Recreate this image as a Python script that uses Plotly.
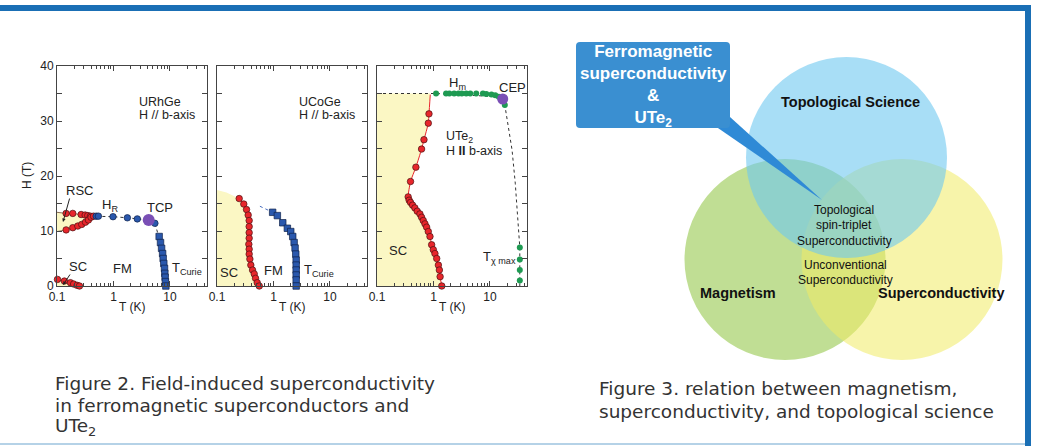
import plotly.graph_objects as go

# ---------------- data ----------------
# URhGe
urhge_rsc_up_T = [0.145, 0.19, 0.267, 0.315, 0.35, 0.39]
urhge_rsc_up_H = [13.2, 13.2, 13.0, 12.9, 12.8, 12.7]
urhge_rsc_lo_T = [0.145, 0.19, 0.233, 0.274, 0.319, 0.36, 0.40, 0.443]
urhge_rsc_lo_H = [10.2, 10.6, 10.9, 11.2, 11.6, 12.0, 12.5, 12.7]
urhge_rsc_edge_H = [13.4, 9.9]
urhge_sc_T = [0.102, 0.135, 0.173, 0.197, 0.227, 0.25]
urhge_sc_H = [1.2, 0.9, 0.6, 0.36, 0.12, 0.0]
urhge_sc_fill_T = [0.1, 0.1, 0.27]
urhge_sc_fill_H = [0.0, 1.5, 0.0]
urhge_hr_T = [0.494, 0.54, 0.98, 1.76, 2.64, 5.4]
urhge_hr_H = [12.7, 12.7, 12.6, 12.4, 12.2, 11.4]
urhge_tcp_T = [4.2]
urhge_tcp_H = [12.0]
urhge_curie_T = [6.43, 6.8, 7.1, 7.4, 7.57, 7.77, 8.0, 8.1, 8.2, 8.3, 8.45]
urhge_curie_H = [9.0, 7.9, 6.85, 5.9, 5.0, 4.1, 3.2, 2.3, 1.6, 0.8, 0.0]

# UCoGe
ucoge_sc_T = [0.247, 0.298, 0.333, 0.356, 0.371, 0.371, 0.371, 0.371, 0.366, 0.371,
              0.371, 0.382, 0.397, 0.426, 0.456, 0.481, 0.515, 0.56]
ucoge_sc_H = [15.9, 14.9, 13.9, 12.9, 11.9, 10.8, 9.7, 8.7, 7.6, 6.7,
              5.8, 4.9, 3.8, 2.9, 2.2, 1.4, 0.6, 0.0]
ucoge_cap_T = [0.1, 0.147, 0.193]
ucoge_cap_H = [17.45, 17.0, 16.4]
ucoge_curie_T = [0.966, 1.17, 1.46, 1.76, 2.02, 2.19, 2.32, 2.41, 2.48, 2.52,
                 2.52, 2.52, 2.52, 2.52, 2.52]
ucoge_curie_H = [13.4, 12.8, 11.5, 10.5, 9.9, 9.0, 7.9, 6.9, 5.8, 4.7,
                 3.8, 2.9, 2.0, 1.1, 0.0]
ucoge_guide_T = [0.575, 0.966]
ucoge_guide_H = [14.5, 13.4]

# UTe2
ute2_sc_T = [0.877, 0.832, 0.809, 0.678, 0.615, 0.488, 0.392, 0.356, 0.371, 0.392,
             0.426, 0.468, 0.515, 0.575, 0.615, 0.659, 0.706, 0.756, 0.809, 0.866,
             0.927, 0.993, 1.06, 1.14, 1.22, 1.27, 1.31, 1.40]
ute2_sc_H = [34.8, 31.3, 29.6, 26.6, 24.9, 21.6, 19.0, 16.2, 15.6, 15.2,
             14.7, 14.2, 13.6, 13.1, 12.5, 11.9, 11.3, 10.7, 9.9, 9.0,
             7.5, 6.6, 5.9, 5.0, 3.8, 2.9, 1.7, 0.0]
ute2_hm_T = [1.11, 1.67, 1.91, 2.32, 2.77, 3.17, 3.79, 4.47, 5.71, 7.5, 8.6, 10.6, 12.4, 14.3]
ute2_hm_H = [35.0, 35.0, 35.0, 35.0, 35.0, 35.0, 35.0, 35.0, 35.0, 35.0, 34.9, 34.8, 34.7, 34.4]
ute2_cep_T = [16.8]
ute2_cep_H = [34.0]
ute2_after_T = [18.3]
ute2_after_H = [32.9]
ute2_guide_T = [0.1, 1.11, 14.3, 16.8, 18.3, 21.0, 24.6, 28.0, 31.0, 33.7, 33.7]
ute2_guide_H = [35.0, 35.0, 34.4, 34.0, 32.9, 29.0, 24.7, 18.7, 12.6, 7.0, 0.0]
ute2_tchi_T = [33.7, 33.7, 33.7, 33.7]
ute2_tchi_H = [7.0, 4.8, 2.9, 1.0]

x_tick_vals = [0.1, 1, 10]
x_tick_text = ["0.1", "1", "10"]
y_tick_vals = [0, 10, 20, 30, 40]
y_tick_text = ["0", "10", "20", "30", "40"]

# ---------------- style ----------------
YEL = "#fbf7c4"
RED = "#e8262b"
REDLINE = "#e8262b"
BLUE = "#2a58ad"
PURPLE = "#7a4fb5"
GREEN = "#1e9a52"
EDGE = "#4a1212"
FONT = "Liberation Sans, Arial, sans-serif"
TXT = "#222222"

fig = go.Figure()


def add(tr, k):
    xa = "x" if k == 1 else f"x{k}"
    ya = "y" if k == 1 else f"y{k}"
    tr.update(xaxis=xa, yaxis=ya, showlegend=False, hoverinfo="skip")
    fig.add_trace(tr)


def mk(color, size=7, symbol="circle", edge=EDGE, ew=0.7):
    return dict(color=color, size=size, symbol=symbol, line=dict(color=edge, width=ew))


# ----- panel 1 : URhGe -----
rsc_fx = [0.1] + urhge_rsc_up_T + urhge_rsc_lo_T[::-1] + [0.1]
rsc_fy = [urhge_rsc_edge_H[0]] + urhge_rsc_up_H + urhge_rsc_lo_H[::-1] + [urhge_rsc_edge_H[1]]
add(go.Scatter(x=rsc_fx, y=rsc_fy, fill="toself", fillcolor=YEL, mode="lines",
               line=dict(width=0)), 1)
sc_fx = urhge_sc_fill_T[:2] + urhge_sc_T + urhge_sc_fill_T[2:]
sc_fy = urhge_sc_fill_H[:2] + urhge_sc_H + urhge_sc_fill_H[2:]
add(go.Scatter(x=sc_fx, y=sc_fy, fill="toself", fillcolor=YEL, mode="lines",
               line=dict(width=0)), 1)
add(go.Scatter(x=[0.1] + urhge_rsc_up_T, y=[urhge_rsc_edge_H[0]] + urhge_rsc_up_H,
               mode="lines", line=dict(color="#6a4a30", width=0.8)), 1)
add(go.Scatter(x=[0.1] + urhge_rsc_lo_T, y=[urhge_rsc_edge_H[1]] + urhge_rsc_lo_H,
               mode="lines", line=dict(color="#6a4a30", width=0.8)), 1)
add(go.Scatter(x=urhge_sc_T, y=urhge_sc_H, mode="lines",
               line=dict(color="#6a4a30", width=0.8)), 1)
guide1_T = urhge_rsc_up_T[-1:] + urhge_hr_T[:5] + urhge_tcp_T + urhge_hr_T[5:] + urhge_curie_T
guide1_H = urhge_rsc_up_H[-1:] + urhge_hr_H[:5] + urhge_tcp_H + urhge_hr_H[5:] + urhge_curie_H
add(go.Scatter(x=guide1_T, y=guide1_H, mode="lines",
               line=dict(color="#333333", width=1, dash="dot")), 1)
add(go.Scatter(x=urhge_rsc_up_T + urhge_rsc_lo_T + urhge_sc_T,
               y=urhge_rsc_up_H + urhge_rsc_lo_H + urhge_sc_H,
               mode="markers", marker=mk(RED, 6.5), cliponaxis=False), 1)
add(go.Scatter(x=urhge_hr_T, y=urhge_hr_H, mode="markers",
               marker=mk(BLUE, 6.5, edge="#10224a")), 1)
add(go.Scatter(x=urhge_curie_T, y=urhge_curie_H, mode="markers",
               marker=mk(BLUE, 6.5, "square", edge="#10224a"), cliponaxis=False), 1)
add(go.Scatter(x=urhge_tcp_T, y=urhge_tcp_H, mode="markers",
               marker=dict(color=PURPLE, size=12)), 1)

# ----- panel 2 : UCoGe -----
add(go.Scatter(x=[0.1] + ucoge_cap_T + ucoge_sc_T, y=[0.0] + ucoge_cap_H + ucoge_sc_H,
               fill="toself", fillcolor=YEL, mode="lines", line=dict(width=0)), 2)
add(go.Scatter(x=ucoge_sc_T, y=ucoge_sc_H, mode="lines",
               line=dict(color=REDLINE, width=1)), 2)
add(go.Scatter(x=ucoge_sc_T, y=ucoge_sc_H, mode="markers",
               marker=mk(RED, 6.5), cliponaxis=False), 2)
add(go.Scatter(x=ucoge_guide_T, y=ucoge_guide_H, mode="lines",
               line=dict(color="#4a6fc0", width=1, dash="dot")), 2)
add(go.Scatter(x=ucoge_curie_T, y=ucoge_curie_H, mode="lines",
               line=dict(color="#333", width=0.8)), 2)
add(go.Scatter(x=ucoge_curie_T, y=ucoge_curie_H, mode="markers",
               marker=mk(BLUE, 6.5, "square", edge="#10224a"), cliponaxis=False), 2)

# ----- panel 3 : UTe2 -----
add(go.Scatter(x=[0.1, 0.1] + ute2_sc_T, y=[0.0, 35.0] + [35.0] + ute2_sc_H[1:],
               fill="toself", fillcolor=YEL, mode="lines", line=dict(width=0)), 3)
add(go.Scatter(x=ute2_guide_T, y=ute2_guide_H, mode="lines",
               line=dict(color="#333333", width=1, dash="dot")), 3)
add(go.Scatter(x=ute2_sc_T, y=ute2_sc_H, mode="lines",
               line=dict(color=REDLINE, width=1, shape="spline", smoothing=0.6)), 3)
add(go.Scatter(x=ute2_sc_T[1:], y=ute2_sc_H[1:], mode="markers",
               marker=mk(RED, 6.5), cliponaxis=False), 3)
add(go.Scatter(x=ute2_hm_T + ute2_after_T + ute2_tchi_T,
               y=ute2_hm_H + ute2_after_H + ute2_tchi_H, mode="markers",
               marker=dict(color=GREEN, size=6), cliponaxis=False), 3)
add(go.Scatter(x=ute2_cep_T, y=ute2_cep_H, mode="markers",
               marker=dict(color=PURPLE, size=11)), 3)

# overlay (pixel) axis for the diagram and text
add(go.Scatter(x=[0], y=[0], mode="markers", marker=dict(size=1, opacity=0)), 4)

W, H = 1038, 446
panels = [(57, 207), (217, 367), (377, 527)]
top_px, bot_px = 66, 286
minor_x = [m * 10 ** e for e in (-1, 0, 1) for m in range(2, 10) if m * 10 ** e < 45]

layout = dict(width=W, height=H,
              margin=dict(l=0, r=0, t=0, b=0, pad=0, autoexpand=False),
              paper_bgcolor="white", plot_bgcolor="rgba(0,0,0,0)",
              showlegend=False)
for i, (x0, x1) in enumerate(panels, start=1):
    sfx = "" if i == 1 else str(i)
    layout[f"xaxis{sfx}"] = dict(
        type="log", range=[-1, 1.655], domain=[x0 / W, x1 / W], anchor=f"y{sfx}",
        automargin=False,
        tickmode="array", tickvals=x_tick_vals, ticktext=x_tick_text,
        ticks="inside", ticklen=5, tickcolor="#444", tickwidth=1,
        mirror="allticks", showline=True, linecolor="#444", linewidth=1,
        showgrid=False, zeroline=False,
        tickfont=dict(family=FONT, size=12, color=TXT),
        minor=dict(ticks="inside", ticklen=3, tickcolor="#444", tickvals=minor_x, showgrid=False),
        fixedrange=True)
    layout[f"yaxis{sfx}"] = dict(
        range=[0, 40], domain=[1 - bot_px / H, 1 - top_px / H], anchor=f"x{sfx}",
        automargin=False,
        tickmode="array", tickvals=y_tick_vals, ticktext=y_tick_text,
        showticklabels=(i == 1),
        ticks="inside", ticklen=5, tickcolor="#444",
        mirror="allticks", showline=True, linecolor="#444", linewidth=1,
        showgrid=False, zeroline=False,
        tickfont=dict(family=FONT, size=12, color=TXT),
        minor=dict(ticks="inside", ticklen=5, tickcolor="#444", dtick=5, showgrid=False),
        fixedrange=True)
layout["xaxis4"] = dict(domain=[0, 1], range=[0, W], visible=False, anchor="y4",
                        automargin=False, fixedrange=True)
layout["yaxis4"] = dict(domain=[0, 1], range=[H, 0], visible=False, anchor="x4",
                        automargin=False, fixedrange=True)
fig.update_layout(**layout)

# ---------------- shapes (pixel coords) ----------------
shapes = []
BAR = "#1a6fb5"
shapes.append(dict(type="rect", xref="x4", yref="y4", x0=0, x1=1031, y0=5, y1=11,
                   fillcolor=BAR, line=dict(width=0)))
shapes.append(dict(type="rect", xref="x4", yref="y4", x0=1025, x1=1031, y0=5, y1=446,
                   fillcolor=BAR, line=dict(width=0)))
shapes.append(dict(type="line", xref="x4", yref="y4", x0=0, x1=1025, y0=444, y1=444,
                   line=dict(color="#9dc3df", width=1.5)))

venn = [  # (cx, cy, r, color, opacity)
    (785, 259.5, 100.5, "rgb(140,195,60)", 0.55),
    (902, 259.5, 100.5, "rgb(240,235,100)", 0.55),
    (846.5, 157.5, 100.5, "rgb(110,200,240)", 0.6),
]
for cx, cy, r, col, op in venn:
    shapes.append(dict(type="circle", xref="x4", yref="y4", x0=cx - r, x1=cx + r,
                       y0=cy - r, y1=cy + r, fillcolor=col, opacity=op, line=dict(width=0)))

BOX = "#3a8fd1"
shapes.append(dict(type="path", xref="x4", yref="y4",
                   path="M 716.5,127 L 730,117 L 822,200 Z",
                   fillcolor="#2f8ad6", line=dict(width=0)))
shapes.append(dict(type="path", xref="x4", yref="y4",
                   path=("M 580,42 L 726,42 Q 730,42 730,46 L 730,124 Q 730,128 726,128 "
                         "L 580,128 Q 576,128 576,124 L 576,46 Q 576,42 580,42 Z"),
                   fillcolor=BOX, line=dict(width=0)))
fig.update_layout(shapes=shapes)

# ---------------- annotations ----------------
ann = []


def txt(x, y, s, size=13, anchor="center", color=TXT, family=FONT, weight="normal", angle=0):
    ann.append(dict(xref="x4", yref="y4", x=x, y=y, text=s, showarrow=False,
                    xanchor=anchor, yanchor="middle", textangle=angle,
                    font=dict(family=family, size=size, color=color, weight=weight)))


def arrow(x0, y0, x1, y1):
    ann.append(dict(xref="x4", yref="y4", axref="x4", ayref="y4", x=x1, y=y1, ax=x0, ay=y0,
                    text="", showarrow=True, arrowhead=2, arrowsize=0.7, arrowwidth=1,
                    arrowcolor="#222"))


# axis titles
txt(27, 176, "H (T)", 12, angle=-90)
for x0, x1 in panels:
    txt((x0 + x1) / 2, 307, "T (K)", 12)

# panel 1 labels
txt(137, 101.5, "URhGe", 12.5, "left")
txt(137, 115, "H // b-axis", 12.5, "left")
txt(79, 190, "RSC", 13)
arrow(70, 197, 63, 222)
txt(100, 205, "H<sub>R</sub>", 13, "left")
txt(160, 207, "TCP", 13)
txt(78, 266, "SC", 13)
arrow(71, 273, 63, 285)
txt(122, 268, "FM", 13)
txt(170, 268, "T<sub>Curie</sub>", 13, "left")

# panel 2 labels
txt(297, 101.5, "UCoGe", 12.5, "left")
txt(297, 115, "H // b-axis", 12.5, "left")
txt(229, 272, "SC", 13)
txt(273, 270, "FM", 13)
txt(302, 270, "T<sub>Curie</sub>", 13, "left")

# panel 3 labels
txt(447, 83, "H<sub>m</sub>", 13, "left")
txt(512, 87, "CEP", 13)
txt(444, 137, "UTe<sub>2</sub>", 12.5, "left")
txt(444, 151, "H <b>II</b> b-axis", 12.5, "left")
txt(398, 250, "SC", 13)
txt(481, 257, "T<sub>χ max</sub>", 13, "left")

# callout
txt(653, 86, "Ferromagnetic<br>superconductivity<br>&<br>UTe<sub>2</sub>", 17,
    color="white", weight="bold")

# venn labels
txt(850, 102, "Topological Science", 14.5, weight="bold", color="#111")
txt(738, 293, "Magnetism", 14.5, weight="bold", color="#111")
txt(941, 293, "Superconductivity", 14.5, weight="bold", color="#111")
txt(844, 210, "Topological", 12, color="#111")
txt(844, 225, "spin-triplet", 12, color="#111")
txt(844, 240.5, "Superconductivity", 12, color="#111")
txt(845.5, 265, "Unconventional", 12, color="#111")
txt(845.5, 280, "Superconductivity", 12, color="#111")

# captions
CAP = "DejaVu Sans, Verdana, sans-serif"
txt(53, 383, "Figure 2. Field-induced superconductivity", 18.5, "left", "#333", CAP)
txt(53, 405, "in ferromagnetic superconductors and", 18.5, "left", "#333", CAP)
txt(53, 427, "UTe<sub>2</sub>", 18.5, "left", "#333", CAP)
txt(597, 388, "Figure 3. relation between magnetism,", 18.5, "left", "#333", CAP)
txt(597, 411, "superconductivity, and topological science", 18.5, "left", "#333", CAP)

fig.update_layout(annotations=ann)
fig.write_html("out.html", config={"displayModeBar": False},
               post_script="document.body.style.margin='0';")
